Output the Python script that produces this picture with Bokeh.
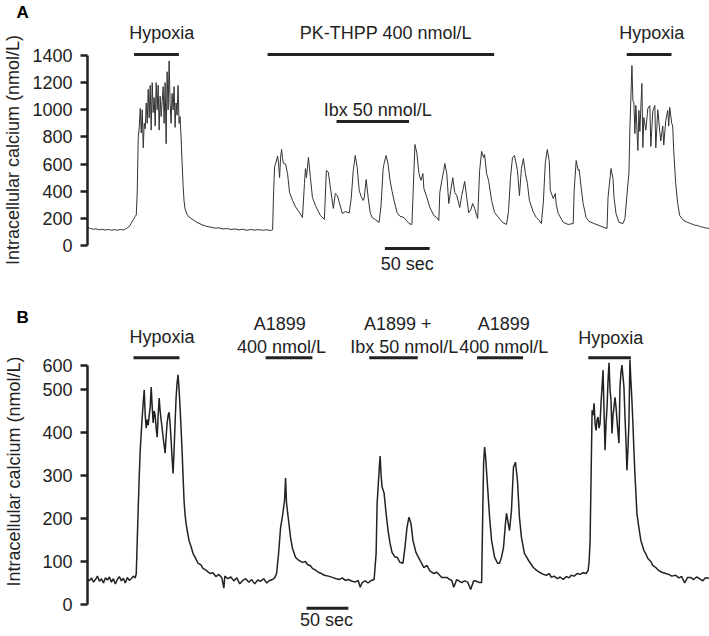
import numpy as np
from bokeh.plotting import figure
from bokeh.layouts import column
from bokeh.models import Range1d, FixedTicker
from bokeh.core.properties import value
from bokeh.embed import file_html
from bokeh.resources import INLINE

FONT = "Liberation Sans"
INK = "#222222"

# ---------------- Panel A : PK-THPP experiment ----------------
SEC_PER_FRAME_A = 50 / 45
frames_a = [0, 3, 6, 9, 12, 15, 18, 21, 24, 27, 30, 33, 36, 39, 42, 44, 46, 48, 49,
            50, 51, 52, 53, 54, 55, 56, 57, 58, 59, 60, 61, 62, 63, 64, 65, 66, 67, 68, 69,
            70, 71, 72, 73, 74, 75, 76, 77, 78, 79, 80, 81, 82, 83, 84, 85, 86, 87, 88, 89,
            90, 91, 92, 93, 94, 95, 96, 97, 98, 100, 102, 104, 107, 110, 113, 116, 120, 124,
            128, 132, 136, 140, 144, 148, 152, 156, 160, 164, 168, 172, 176, 180, 184, 186,
            187, 188, 190, 191, 192, 193, 194, 195, 196, 197, 199, 201, 203, 206, 209, 213,
            216, 218, 219, 220, 222, 224, 226, 229, 232, 234, 238, 240, 242, 244, 247, 249,
            251, 253, 256, 259, 263, 265, 267, 269, 271, 273, 275, 277, 278, 280, 282, 284,
            286, 289, 293, 295, 297, 298, 300, 302, 304, 306, 308, 311, 314, 318, 321, 323,
            326, 328, 329, 331, 333, 335, 337, 338, 341, 344, 348, 351, 353, 354, 356, 358,
            359, 361, 363, 365, 367, 369, 371, 374, 376, 379, 381, 383, 385, 387, 389, 391,
            392, 394, 396, 398, 399, 401, 403, 406, 409, 413, 417, 421, 423, 425, 427, 429,
            432, 434, 436, 438, 440, 442, 444, 448, 451, 454, 456, 458, 460, 462, 464, 465,
            468, 470, 471, 473, 478, 483, 488, 489, 491, 493, 494, 496, 498, 501, 504, 509,
            514, 519, 522, 523, 526, 528, 529, 531, 534, 538, 540, 543, 544, 545, 547, 548,
            549, 550, 551, 553, 554, 555, 557, 558, 559, 561, 563, 565, 566, 568, 570, 571,
            573, 575, 576, 578, 579, 581, 583, 584, 585, 587, 588, 589, 591, 593, 595, 599,
            603, 606, 610, 613, 616, 619, 622, 625]
calcium_a = [133, 125, 120, 122, 116, 119, 114, 118, 113, 117, 112, 118, 115, 125, 140, 165, 190, 215, 225,
             400, 800, 870, 1010, 830, 1000, 720, 900, 860, 1050, 900, 1150, 940, 1180, 850, 1200, 980, 1090, 880, 1200,
             1000, 1180, 850, 1100, 950, 1060, 1170, 900, 1200, 750, 1280, 1000, 1360, 1050, 900, 1120, 1000, 1170, 870, 1050,
             960, 1180, 900, 950, 800, 620, 450, 330, 270, 230, 210, 200, 185, 170, 160, 150, 140, 135,
             128, 130, 122, 125, 118, 122, 115, 120, 112, 118, 113, 117, 112, 116, 110, 115,
             400, 580, 630, 660, 600, 500, 650, 707, 640, 604, 600, 530, 390, 332, 285, 243,
             206, 457, 567, 500, 648, 500, 354, 295, 250, 221, 192, 553, 540, 427, 273, 383,
             370, 317, 236, 250, 240, 350, 550, 663, 575, 405, 360, 332, 350, 486, 354, 243,
             206, 192, 170, 300, 560, 604, 663, 600, 479, 400, 332, 243, 215, 206, 180, 162,
             155, 553, 744, 678, 530, 480, 530, 420, 354, 280, 221, 206, 184, 390, 480, 553,
             604, 530, 309, 405, 500, 390, 370, 280, 368, 472, 354, 243, 260, 309, 273, 221,
             199, 553, 693, 648, 670, 530, 480, 332, 243, 206, 170, 155, 250, 500, 648, 663,
             553, 368, 567, 641, 530, 457, 332, 243, 206, 184, 162, 317, 611, 707, 620, 405,
             346, 383, 300, 236, 170, 155, 162, 405, 626, 553, 560, 427, 309, 206, 177, 162,
             147, 133, 125, 354, 567, 494, 354, 236, 170, 162, 199, 457, 530, 870, 1326, 1068,
             1050, 825, 1032, 700, 995, 840, 1194, 722, 943, 850, 1010, 1030, 730, 990, 1032, 720,
             1000, 840, 770, 880, 740, 920, 995, 880, 1017, 900, 880, 700, 457, 309, 221, 184,
             170, 162, 150, 147, 138, 133, 128, 125]
ticks_a = [0, 200, 400, 600, 800, 1000, 1200, 1400]

# treatment bars (seconds) and their labels
bar_a_start = [52, 201, 278, 602]
bar_a_end = [102, 454, 359, 652]
bar_a_level = [1407, 1407, 914, 1407]
label_a_text = ["Hypoxia", "PK-THPP 400 nmol/L", "Ibx 50 nmol/L", "Hypoxia"]
label_a_x = [83, 333, 324, 630]
label_a_y = [1569, 1562, 995, 1562]

# ---------------- Panel B : A1899 experiment ----------------
SEC_PER_FRAME_B = 50 / 42
frames_b = [0, 2, 4, 6, 8, 10, 12, 14, 16, 18, 20, 22, 24, 26, 28, 30, 32, 34, 36, 38, 40, 42, 44, 46, 48, 49,
            50, 51, 52, 53, 54, 55, 56, 57, 58, 59, 60, 61, 62, 63, 64, 65, 66, 67, 68, 69,
            70, 71, 72, 73, 74, 75, 76, 77, 78, 79, 80, 81, 82, 83, 84, 85, 86, 87, 88, 89,
            90, 91, 92, 93, 94, 95, 96, 97, 98, 99, 100, 102, 104, 106, 108, 111, 114, 116, 119,
            123, 126, 129, 132, 135, 137, 138, 141, 144, 147, 150, 153, 156, 159, 162, 165, 168,
            171, 174, 177, 180, 183, 186, 188, 190, 192, 194, 196, 198, 199, 200, 201, 202, 204,
            206, 209, 212, 216, 219, 221, 224, 226, 229, 232, 235, 238, 242, 246, 250, 253, 256,
            259, 262, 266, 269, 272, 274, 276, 279, 282, 285, 288, 290, 291, 293, 294, 295, 296,
            298, 300, 302, 304, 306, 309, 311, 314, 317, 319, 321, 323, 325, 327, 330, 334, 338,
            341, 344, 348, 351, 356, 361, 364, 366, 368, 371, 376, 379, 382, 385, 388, 391, 394,
            396, 397, 398, 399, 400, 402, 404, 406, 409, 412, 414, 416, 418, 420, 421, 423, 424,
            426, 428, 430, 432, 434, 436, 439, 443, 448, 451, 454, 458, 461, 464, 466, 469, 472,
            475, 478, 481, 484, 486, 489, 492, 495, 498, 501, 503, 504, 505, 506, 507, 508, 509,
            510, 511, 512, 513, 514, 515, 516, 517, 518, 519, 520, 521, 522, 523, 524, 525, 526,
            527, 528, 529, 530, 531, 532, 533, 534, 535, 536, 537, 538, 539, 540, 541, 542, 543,
            544, 545, 546, 547, 548, 549, 550, 551, 552, 554, 556, 559, 561, 563, 566, 568, 571,
            574, 577, 581, 584, 587, 591, 594, 597, 600, 603, 606, 609, 612, 615, 618, 621, 625]
calcium_b = [60, 55, 62, 52, 58, 66, 54, 60, 50, 62, 57, 64, 52, 60, 48, 58, 65, 55, 61, 50, 63, 56, 60, 66, 62, 72,
             150, 226, 300, 359, 400, 436, 470, 499, 440, 410, 430, 417, 440, 459, 506, 460, 422, 450, 440, 410,
             389, 440, 480, 450, 429, 410, 389, 370, 352, 390, 422, 440, 447, 420, 382, 340, 305, 360, 422, 480,
             515, 534, 500, 459, 410, 359, 300, 242, 210, 189, 175, 149, 135, 119, 110, 96, 92, 84, 80,
             72, 74, 65, 70, 62, 38, 66, 60, 64, 55, 62, 48, 56, 60, 52, 58, 48,
             57, 54, 60, 50, 56, 58, 62, 72, 119, 179, 207, 242, 294, 235, 215, 196, 156,
             130, 110, 103, 98, 100, 93, 90, 84, 80, 75, 72, 68, 66, 63, 60, 58, 62,
             56, 58, 54, 52, 56, 40, 51, 55, 50, 56, 58, 119, 235, 312, 345, 300, 273,
             259, 212, 172, 142, 121, 110, 110, 98, 96, 133, 179, 203, 189, 149, 121, 103, 86,
             91, 78, 72, 75, 63, 63, 58, 56, 40, 58, 51, 55, 52, 35, 55, 54, 51,
             51, 196, 329, 366, 343, 273, 203, 149, 110, 96, 96, 110, 133, 190, 212, 185, 172,
             219, 319, 331, 289, 203, 156, 119, 103, 86, 80, 75, 70, 68, 72, 63, 66, 60,
             64, 58, 65, 62, 68, 66, 72, 70, 74, 72, 79, 100, 149, 300, 452, 440, 468,
             420, 405, 430, 436, 410, 422, 470, 506, 545, 450, 359, 420, 459, 520, 562, 500, 475,
             398, 440, 459, 482, 460, 429, 400, 375, 506, 540, 557, 530, 506, 440, 382, 312, 360,
             422, 569, 520, 475, 422, 360, 305, 260, 212, 179, 149, 126, 118, 107, 100, 91, 86,
             79, 75, 72, 70, 66, 68, 62, 65, 50, 63, 63, 58, 64, 60, 55, 62, 61]
ticks_b = [0, 100, 200, 300, 400, 500, 600]
# in the source figure the top "600" label sits closer to "500" than the others
TOP_LABEL_LEVEL_B = 556

bar_b_start = [55, 213, 337, 466, 599]
bar_b_end = [110, 269, 395, 521, 650]
bar_b_level = [574, 574, 574, 574, 574]
label_b_text = ["Hypoxia", "A1899", "400 nmol/L", "A1899 +", "Ibx 50 nmol/L", "A1899", "400 nmol/L", "Hypoxia"]
label_b_x = [89, 230, 232, 371, 379, 498, 498, 626]
label_b_y = [621, 653, 598, 653, 598, 653, 598, 619]


def style_axis(p, tick_levels, bounds, label_standoff, overrides=None):
    ax = p.yaxis[0]
    ax.ticker = FixedTicker(ticks=tick_levels)
    if overrides:
        ax.major_label_overrides = overrides
    ax.bounds = bounds
    ax.axis_line_color = INK
    ax.axis_line_width = 2.5
    ax.major_tick_line_color = INK
    ax.major_tick_line_width = 2.5
    ax.major_tick_out = 7
    ax.major_tick_in = 0
    ax.minor_tick_line_color = None
    ax.major_label_text_font = FONT
    ax.major_label_text_font_size = "18px"
    ax.major_label_text_color = INK
    ax.major_label_standoff = 8
    ax.axis_label = "Intracellular calcium (nmol/L)"
    ax.axis_label_text_font = FONT
    ax.axis_label_text_font_size = "18px"
    ax.axis_label_text_font_style = "normal"
    ax.axis_label_text_color = INK
    ax.axis_label_standoff = label_standoff


def base_fig(height, x_end, y_start, y_end, top, bottom, letter, letter_standoff):
    p = figure(width=709, height=height, x_range=Range1d(0, x_end), y_range=Range1d(y_start, y_end),
               x_axis_type=None, output_backend="svg", toolbar_location=None,
               min_border_left=84, min_border_right=0, min_border_top=top, min_border_bottom=bottom)
    p.xgrid.visible = False
    p.ygrid.visible = False
    p.outline_line_color = None
    p.background_fill_color = "white"
    p.border_fill_color = "white"
    # panel letter
    p.title.text = letter
    p.title.align = "left"
    p.title.offset = -71
    p.title.standoff = letter_standoff
    p.title.vertical_align = "bottom"
    p.title.text_font = FONT
    p.title.text_font_size = "17px"
    p.title.text_font_style = "bold"
    p.title.text_color = "black"
    return p


# ---- Panel A figure ----
pA = base_fig(290, 694.4, -243.2, 1650.4, 21, 12, "A", 0)
style_axis(pA, ticks_a, (0, ticks_a[-1]), 6)
time_a = np.array(frames_a) * SEC_PER_FRAME_A
pA.line(time_a, calcium_a, line_color="#333333", line_width=1.0)
pA.segment(x0=bar_a_start, x1=bar_a_end, y0=bar_a_level, y1=bar_a_level, line_color=INK, line_width=3)
pA.text(x=label_a_x, y=label_a_y, text=label_a_text, text_font=value(FONT), text_font_size="18px",
        text_align="center", text_baseline="middle", text_color=INK)
pA.segment(x0=[332], x1=[382], y0=[-22], y1=[-22], line_color=INK, line_width=3)
pA.text(x=[357], y=[-140], text=["50 sec"], text_font=value(FONT), text_font_size="18px",
        text_align="center", text_baseline="middle", text_color=INK)

# ---- Panel B figure ----
pB = base_fig(346, 744.0, -62.8, 681.4, 21, 5, "B", -31)
tick_levels_b = ticks_b[:-1] + [TOP_LABEL_LEVEL_B]
style_axis(pB, tick_levels_b, (0, TOP_LABEL_LEVEL_B), 15, {TOP_LABEL_LEVEL_B: str(ticks_b[-1])})
time_b = np.array(frames_b) * SEC_PER_FRAME_B
pB.line(time_b, calcium_b, line_color=INK, line_width=1.5)
pB.segment(x0=bar_b_start, x1=bar_b_end, y0=bar_b_level, y1=bar_b_level, line_color=INK, line_width=3)
pB.text(x=label_b_x, y=label_b_y, text=label_b_text, text_font=value(FONT), text_font_size="18px",
        text_align="center", text_baseline="middle", text_color=INK)
pB.segment(x0=[262], x1=[312], y0=[-9], y1=[-9], line_color=INK, line_width=3)
pB.text(x=[286], y=[-35], text=["50 sec"], text_font=value(FONT), text_font_size="18px",
        text_align="center", text_baseline="middle", text_color=INK)

layout = column(pA, pB)
open("out.html", "w").write(file_html(layout, INLINE))
